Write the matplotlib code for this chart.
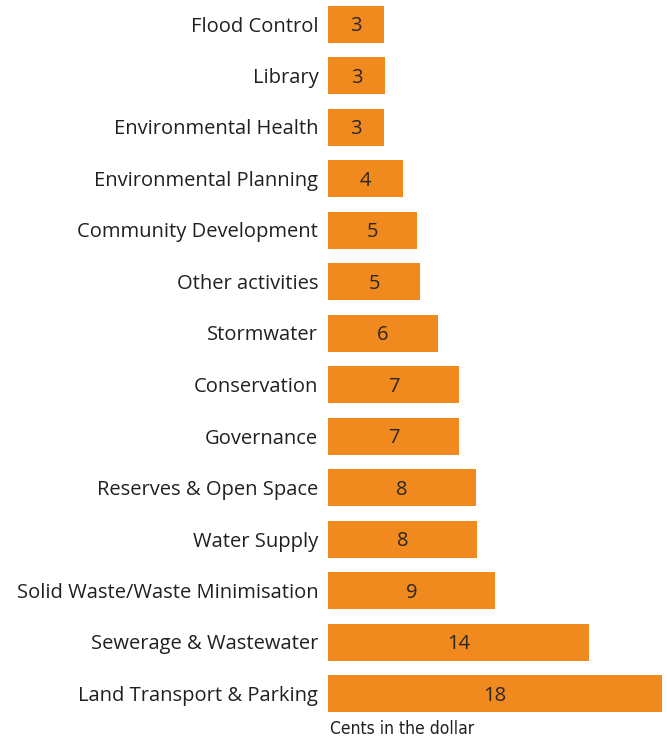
import matplotlib
matplotlib.use("Agg")
import matplotlib.pyplot as plt

# activities, top to bottom as shown
categories = ["Flood Control", "Library", "Environmental Health", "Environmental Planning",
              "Community Development", "Other activities", "Stormwater", "Conservation",
              "Governance", "Reserves & Open Space", "Water Supply",
              "Solid Waste/Waste Minimisation", "Sewerage & Wastewater",
              "Land Transport & Parking"]
# cents in the dollar (bar lengths)
values = [3.02, 3.06, 3.02, 4.04, 4.8, 4.96, 5.93, 7.06, 7.06, 7.97, 8.03, 9.0, 14.06, 18.0]
# printed labels
labels = ["3", "3", "3", "4", "5", "5", "6", "7", "7", "8", "8", "9", "14", "18"]

W, H = 667, 739
fig = plt.figure(figsize=(W / 100, H / 100), dpi=100)
plt.rcParams['font.family'] = ['Open Sans', 'DejaVu Sans']

x0, x1 = 328, 662
ax = fig.add_axes([x0 / W, 0, (x1 - x0) / W, 1])

step = 51.5
top = 24
pos = list(range(len(categories)))
ax.barh(pos, values, height=37 / step, color="#F08A1F")
ax.set_xlim(0, 18)
ax.set_ylim((H - top) / step, -top / step)

for p, v, lab in zip(pos, values, labels):
    ax.text(v / 2, p + 0.04, lab, ha="center", va="center", fontsize=14.5, color="#2b2622")

ax.set_yticks(pos)
ax.set_yticklabels(categories, fontsize=14.5, color="#231f20")
ax.tick_params(axis="y", length=0, pad=7)
ax.set_xticks([])
for s in ax.spines.values():
    s.set_visible(False)

fig.text(330 / W, 1 - 729 / H, "Cents in the dollar", ha="left", va="center",
         fontsize=12.5, color="#231f20", family="DejaVu Sans", stretch="condensed")

fig.savefig("out.png", dpi=100)
